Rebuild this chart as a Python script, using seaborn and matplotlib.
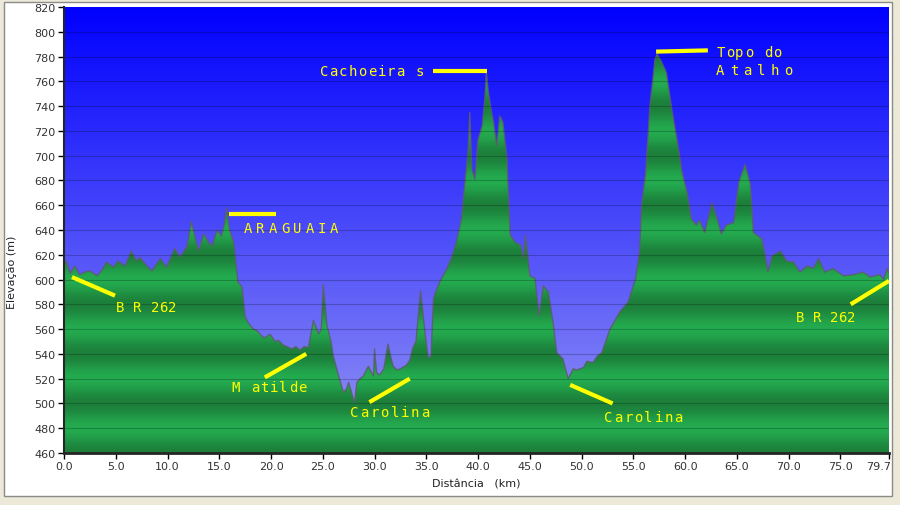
import numpy as np
import matplotlib
matplotlib.use("Agg")
import matplotlib.pyplot as plt
import matplotlib.transforms as mtransforms
from matplotlib.patches import Polygon, Rectangle
import seaborn as sns

# elevation profile (km, m)
dist_km = [0.0, 0.2, 0.6, 1.06, 1.5, 2.0, 2.5, 3.2, 3.7, 4.1, 4.8, 5.2, 5.9, 6.5, 7.0, 7.3,
           8.0, 8.5, 9.3, 9.9, 10.7, 11.2, 11.9, 12.3, 12.7, 13.0, 13.5, 13.9, 14.3, 14.8,
           15.2, 15.5, 15.7, 16.0, 16.4, 16.8, 17.2, 17.5, 17.8, 18.3, 18.6, 19.3, 19.6,
           19.9, 20.4, 20.7, 21.2, 21.5, 22.0, 22.4, 22.8, 23.2, 23.6, 24.1, 24.6, 24.85,
           25.05, 25.4, 25.8, 26.0, 26.5, 27.0, 27.3, 27.5, 28.05, 28.3, 28.6, 28.9, 29.4,
           29.9, 30.0, 30.2, 30.5, 30.9, 31.3, 31.5, 31.8, 32.2, 32.5, 33.1, 33.4, 33.7,
           34.0, 34.2, 34.45, 34.9, 35.2, 35.45, 35.7, 36.0, 36.3, 37.0, 37.5, 37.9, 38.4,
           38.7, 38.9, 39.05, 39.2, 39.4, 39.7, 40.0, 40.4, 40.65, 40.8, 41.0, 41.3, 41.5,
           41.8, 42.1, 42.4, 42.8, 43.1, 43.6, 44.1, 44.4, 44.6, 45.0, 45.5, 45.9, 46.3,
           46.8, 47.3, 47.6, 48.2, 48.7, 49.2, 49.5, 50.2, 50.5, 51.1, 51.5, 51.95, 52.75,
           53.7, 54.5, 55.2, 55.6, 55.8, 56.2, 56.6, 57.1, 57.3, 57.7, 58.2, 58.7, 59.2,
           59.7, 60.2, 60.6, 61.1, 61.4, 61.9, 62.6, 63.1, 63.5, 64.0, 64.7, 65.2, 65.8,
           66.3, 66.6, 67.4, 67.7, 68.0, 68.4, 69.2, 69.8, 70.5, 71.1, 71.8, 72.4, 72.9,
           73.5, 74.3, 75.3, 76.3, 77.2, 77.9, 78.8, 79.2, 79.5, 79.7]
elev_m = [612, 615, 605, 611, 604, 606, 607, 603, 608, 614, 610, 615, 611, 623, 615, 618,
          611, 607, 617, 610, 625, 618, 627, 647, 633, 623, 637, 631, 627, 640,
          635, 645, 658, 640, 630, 598, 594, 570, 565, 560, 559, 553, 554,
          556, 550, 551, 547, 546, 544, 546, 543, 546, 545, 567, 556, 560,
          596, 563, 550, 539, 523, 509, 512, 517, 501, 517, 520, 522, 530,
          522, 544, 525, 523, 528, 548, 540, 530, 527, 528, 531, 535, 545,
          550, 568, 591, 555, 537, 538, 585, 592, 598, 609, 619, 630, 649,
          676, 692, 705, 735, 689, 681, 713, 724, 745, 767, 751, 735, 727,
          708, 732, 727, 697, 636, 630, 628, 617, 636, 603, 601, 571, 595,
          590, 562, 541, 536, 520, 528, 527, 529, 534, 533, 538, 541, 560,
          574, 582, 600, 622, 660, 687, 740, 778, 782, 776, 767, 738, 714,
          687, 670, 649, 644, 648, 638, 662, 649, 637, 644, 646, 679, 693,
          677, 638, 633, 621, 606, 619, 623, 615, 614, 606, 611, 609, 617,
          606, 609, 603, 604, 606, 602, 604, 600, 609, 605]

y_ticks = list(range(460, 821, 20))
x_ticks = [0, 5, 10, 15, 20, 25, 30, 35, 40, 45, 50, 55, 60, 65, 70, 75, 79.7]

# place names: text, (x, y) of text, pointer line
place_names = ["B R 262", "ARAGUAIA", "M atilde", "Carolina", "Cachoeira s",
               "Topo do", "Atalho", "Carolina", "B R 262"]
name_x = [5.0, 17.4, 16.2, 27.6, 24.7, 63.0, 63.0, 52.2, 70.7]
name_y = [578, 642, 513, 493, 768, 784, 769, 489, 570]
name_pitch = [8.7, 12.3, 9.5, 10.2, 9.6, 9.5, 13.5, 10.0, 8.5]
pointer_x = [(0.77, 4.93), (15.9, 20.5), (19.4, 23.4), (29.5, 33.4), (35.65, 40.9),
             (57.2, 62.2), (48.9, 53.0), (76.0, 79.7)]
pointer_y = [(602, 587), (653, 653), (521, 540), (501, 520), (768, 768),
             (784, 785), (515, 500), (580, 599)]

sns.set_style("ticks")
plt.rcParams['font.family'] = ['DejaVu Sans']

fig = plt.figure(figsize=(9, 5.06), dpi=100, facecolor='#ece9d8')
fig.patches.append(Rectangle((4 / 900, 1 - 497 / 506), 888 / 900, 494 / 506,
                             transform=fig.transFigure, facecolor='white',
                             edgecolor='#8a8a8a', lw=1, zorder=-1))
ax = fig.add_axes([64 / 900, 1 - 454 / 506, 825 / 900, 446 / 506])
ax.set_xlim(0, 79.7)
ax.set_ylim(460, 820)

# sky gradient (row 0 = top)
t = np.linspace(0, 1, 256)[:, None]
top = np.array([0, 0, 255]) / 255
bot = np.array([150, 150, 245]) / 255
sky = (top + (bot - top) * t[..., None]) * np.ones((256, 2, 1))
ax.imshow(sky, extent=[0, 79.7, 460, 820], aspect='auto', zorder=0, origin='upper')

# softly banded green terrain
e = np.linspace(820, 460, 1200)
k = 0.5 + 0.5 * np.cos(2 * np.pi * (e - 520) / 40)
dark = np.array([0.11, 0.50, 0.23])
light = np.array([0.14, 0.67, 0.31])
green = (dark + (light - dark) * k[:, None])[:, None, :] * np.ones((1, 2, 1))
im = ax.imshow(green, extent=[0, 79.7, 460, 820], aspect='auto', zorder=1, origin='upper')
verts = list(zip(dist_km, elev_m)) + [(79.7, 460), (0, 460)]
clip = Polygon(verts, closed=True, transform=ax.transData, facecolor='none', edgecolor='none')
ax.add_patch(clip)
im.set_clip_path(clip)

sns.lineplot(x=dist_km, y=elev_m, ax=ax, color='#5d5d6c', lw=1.0, alpha=0.85, zorder=2)

for yv in y_ticks[1:-1]:
    ax.axhline(yv, color='black', lw=0.8, alpha=0.22, zorder=2.5)

# labels
for (x0, x1), (y0, y1) in zip(pointer_x, pointer_y):
    ax.plot([x0, x1], [y0, y1], color='#ffff00', lw=3, solid_capstyle='butt', zorder=4)
for s, x, y, p in zip(place_names, name_x, name_y, name_pitch):
    for i, ch in enumerate(s):
        tr = mtransforms.offset_copy(ax.transData, fig=fig, x=i * p, y=0, units='dots')
        ax.text(x, y, ch, transform=tr, color='#ffff00', fontsize=10,
                family='DejaVu Sans Mono', ha='left', va='center', zorder=5)

ax.set_yticks(y_ticks)
ax.set_xticks(x_ticks)
ax.set_xticklabels([f"{v:.1f}" for v in x_ticks])
ax.tick_params(direction='out', length=4, width=1, colors='black',
               labelcolor='#333333', labelsize=8, pad=2)
last = ax.get_xticklabels()[-1]
last.set_horizontalalignment('right')
last.set_transform(last.get_transform() + mtransforms.ScaledTranslation(2 / 100, 0, fig.dpi_scale_trans))
for side in ['top', 'right']:
    ax.spines[side].set_visible(False)
ax.spines['left'].set_linewidth(1.5)
ax.spines['bottom'].set_linewidth(2)
ax.set_xlabel("Distância   (km)", fontsize=8, color='#222222', labelpad=5)
ax.set_ylabel("")
fig.text(12 / 900, 1 - 272 / 506, "Elevação (m)", rotation=90, fontsize=8,
         color='#222222', ha='center', va='center')

fig.savefig("out.png", dpi=100, facecolor=fig.get_facecolor())
